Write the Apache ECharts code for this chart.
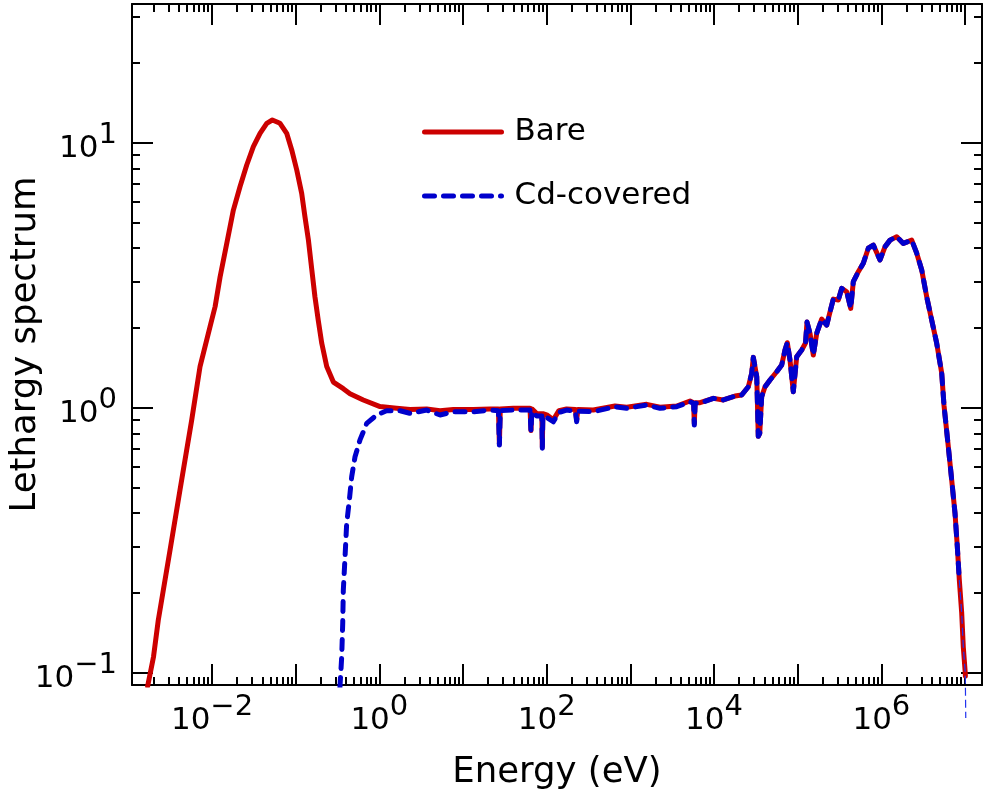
<!DOCTYPE html>
<html>
<head>
<meta charset="utf-8">
<script src="https://cdn.jsdelivr.net/npm/echarts@6/dist/echarts.min.js"></script>
<style>html,body{margin:0;padding:0;background:#fff}#c{width:1004px;height:803px}</style>
</head>
<body>
<div id="c"></div>
<script>
// ---------- data (energy in eV, lethargy spectrum) ----------
const seriesNames = ['Bare', 'Cd-covered'];

// Bare: thermal peak + epithermal plateau
const bareLowE = [1.70e-3, 2.0e-3, 2.28e-3, 3.15e-3, 4.14e-3, 5.72e-3, 7.19e-3, 9.46e-3, 0.0109, 0.0125,
  0.0150, 0.0180, 0.0216, 0.0260, 0.0312, 0.0375, 0.0451, 0.0526, 0.065, 0.0781,
  0.0897, 0.103, 0.118, 0.129, 0.142, 0.156, 0.170, 0.186, 0.205, 0.235,
  0.282, 0.371, 0.446, 0.643, 1.02, 1.61, 2.33, 3.68, 5.31, 7.66,
  13.3, 21.0, 26.5, 27.2, 27.9, 39.9, 63.2, 64.9, 66.5, 76,
  87.5, 88.7, 90, 100, 120, 140, 173, 220, 228, 236,
  361, 655, 904, 1568, 2261, 3581, 5164, 5700, 5813, 5950, 6800];
const bareLowV = [0.089, 0.115, 0.158, 0.290, 0.489, 0.899, 1.43, 2.02, 2.41, 3.12,
  4.17, 5.57, 6.82, 8.24, 9.66, 10.85, 11.84, 12.18, 11.84, 10.85,
  9.39, 7.89, 6.44, 5.26, 4.29, 3.31, 2.62, 2.14, 1.75, 1.43,
  1.25, 1.18, 1.13, 1.07, 1.01, 0.995, 0.985, 0.99, 0.975, 0.985,
  0.985, 0.99, 0.99, 0.73, 0.99, 0.995, 0.995, 0.82, 0.99, 0.95,
  0.95, 0.71, 0.95, 0.94, 0.90, 0.975, 0.99, 0.985, 0.90, 0.985,
  0.98, 1.015, 1.005, 1.03, 1.005, 1.015, 1.06, 1.045, 0.87, 1.045, 1.045];

// Cd-covered: cut-off + epithermal plateau
const cdLowE = [0.338, 0.355, 0.365, 0.371, 0.389, 0.407, 0.438, 0.467, 0.512, 0.587,
  0.706, 0.930, 1.22, 1.77, 2.33, 3.68, 5.31, 7.66, 13.3, 21.0,
  26.5, 27.2, 27.9, 39.9, 63.2, 64.9, 66.5, 76, 87.5, 88.7,
  90, 100, 120, 140, 173, 220, 228, 236, 361, 655,
  904, 1568, 2261, 3581, 5164, 5700, 5813, 5950, 6800];
const cdLowV = [0.088, 0.115, 0.154, 0.205, 0.274, 0.366, 0.448, 0.549, 0.653, 0.756,
  0.873, 0.939, 0.974, 0.974, 0.952, 0.980, 0.939, 0.966, 0.966, 0.980,
  0.975, 0.723, 0.975, 0.980, 0.980, 0.812, 0.97, 0.93, 0.93, 0.703,
  0.93, 0.92, 0.885, 0.96, 0.980, 0.97, 0.885, 0.97, 0.966, 1.009,
  0.995, 1.024, 0.995, 1.009, 1.053, 1.04, 0.86, 1.04, 1.039];

// common fast region (both spectra coincide)
const fastE = [9800, 12900, 17800, 21400, 25700, 28200, 29500, 30900, 32400, 33800,
  35200, 37100, 40700, 46700, 56100, 64400, 70500, 75100, 80900, 88600,
  97300, 111700, 124000, 129200, 140300, 153700, 168800, 193600, 222200, 243400,
  266400, 305800, 335700, 385300, 430100, 462000, 530100, 608400, 698300, 801400,
  963400, 1.105e6, 1.269e6, 1.526e6, 1.829e6, 2.305e6, 2.645e6, 3.036e6, 3.484e6, 3.998e6,
  4.586e6, 5.263e6, 5.607e6, 6.312e6, 6.928e6, 7.589e6, 8.085e6, 8.543e6];
const fastV = [1.085, 1.07, 1.107, 1.117, 1.20, 1.348, 1.549, 1.549, 1.309, 0.78,
  0.80, 1.10, 1.20, 1.272, 1.367, 1.449, 1.651, 1.759, 1.514, 1.149,
  1.557, 1.651, 1.754, 2.105, 1.909, 1.580, 1.91, 2.16, 2.05, 2.30,
  2.57, 2.55, 2.82, 2.74, 2.37, 2.99, 3.26, 3.51, 4.00, 4.11,
  3.61, 4.05, 4.29, 4.42, 4.17, 4.29, 3.83, 3.31, 2.62, 2.14,
  1.75, 1.35, 1.02, 0.712, 0.534, 0.400, 0.299, 0.224];

const bareEndE = [9.124e6, 9.535e6, 1.007e7, 1.01e7];
const bareEndV = [0.168, 0.125, 0.0995, 0.097];
const cdTailE = [8.543e6, 9.124e6, 9.535e6, 1.007e7, 1.02e7];
const cdTailV = [0.224, 0.168, 0.125, 0.0995, 0.0675];

// axes
const xRange = [1.106e-3, 1.595e7];
const yRange = [0.0899, 33.38];
const xMajorExp = [-2, -1, 0, 1, 2, 3, 4, 5, 6, 7];
const xLabelExp = [-2, 0, 2, 4, 6];
const yMajorExp = [-1, 0, 1];
const yLabelExp = [-1, 0, 1];
const minorMult = [2, 3, 4, 5, 6, 7, 8, 9];
const xTitle = 'Energy (eV)';
const yTitle = 'Lethargy spectrum';

// ---------- helpers ----------
const L = Math.log10;
const FONT = 'DejaVu Sans';
const RED = '#cc0000', BLUE = '#0000cc';
const lx = xRange.map(L), ly = yRange.map(L);

function minorTicks(range) {
  const out = [];
  for (let n = Math.floor(range[0]) - 1; n <= Math.ceil(range[1]); n++) {
    minorMult.forEach(k => { const v = n + L(k); if (v > range[0] && v < range[1]) out.push(v); });
  }
  return out;
}
function pairs(E, V) { return E.map((e, i) => [L(e), L(V[i])]); }

const rich = {
  b: { fontFamily: FONT, fontSize: 31, lineHeight: 31, padding: [12, 0, 0, 0], color: '#000' },
  s: { fontFamily: FONT, fontSize: 29, lineHeight: 29, padding: [0, 0, 14, 0], color: '#000' }
};
function fmt(v) {
  const n = Math.round(v);
  return '{b|10}{s|' + (n < 0 ? '\u2212' + Math.abs(n) : String(n)) + '}';
}
const lineBlk = { color: '#000', width: 2 };

function axis(dim, pos, grid, ticks, len, opts) {
  return Object.assign({
    type: 'value', gridIndex: grid, position: pos,
    min: dim === 'x' ? lx[0] : ly[0], max: dim === 'x' ? lx[1] : ly[1],
    axisLine: { show: grid === 0, onZero: false, lineStyle: lineBlk },
    axisTick: { show: true, inside: true, length: len, customValues: ticks, lineStyle: lineBlk },
    axisLabel: { show: false },
    splitLine: { show: false },
    minorTick: { show: false }
  }, opts || {});
}

const xMinor = minorTicks(lx), yMinor = minorTicks(ly);
const gridBox = { left: 132, top: 4, width: 850, height: 681, containLabel: false, outerBoundsMode: 'none' };

const option = {
  animation: false,
  backgroundColor: '#fff',
  grid: [Object.assign({}, gridBox), Object.assign({}, gridBox)],
  xAxis: [
    axis('x', 'bottom', 0, xMajorExp, 21, {
      axisLabel: { show: true, customValues: xLabelExp, formatter: fmt, margin: 14, rich: rich },
      name: xTitle, nameLocation: 'middle', nameGap: 70, nameMoveOverlap: false,
      nameTextStyle: { fontFamily: FONT, fontSize: 35.5, lineHeight: 36, color: '#000' }
    }),
    axis('x', 'top', 0, xMajorExp, 21),
    axis('x', 'bottom', 1, xMinor, 8),
    axis('x', 'top', 1, xMinor, 8)
  ],
  yAxis: [
    axis('y', 'left', 0, yMajorExp, 21, {
      axisLabel: { show: true, customValues: yLabelExp, formatter: fmt, margin: 15, rich: rich },
      name: yTitle, nameLocation: 'middle', nameGap: 88, nameMoveOverlap: false,
      nameTextStyle: { fontFamily: FONT, fontSize: 35.5, lineHeight: 36, color: '#000' }
    }),
    axis('y', 'right', 0, yMajorExp, 21),
    axis('y', 'left', 1, yMinor, 8),
    axis('y', 'right', 1, yMinor, 8)
  ],
  legend: {
    data: seriesNames,
    orient: 'vertical', left: 422, top: 112, padding: 0,
    itemWidth: 77, itemHeight: 20, itemGap: 24,
    itemStyle: { color: 'rgba(0,0,0,0)', borderColor: 'rgba(0,0,0,0)', borderWidth: 0, opacity: 0 },
    lineStyle: { width: 5 },
    textStyle: { fontFamily: FONT, fontSize: 31, lineHeight: 40, color: '#000', padding: [0, 0, 0, 8] }
  },
  series: [
    {
      name: seriesNames[0], type: 'line', xAxisIndex: 0, yAxisIndex: 0,
      symbol: 'none', showSymbol: false, clip: true,
      lineStyle: { color: RED, width: 5, cap: 'round', join: 'round' },
      itemStyle: { color: RED },
      data: pairs(bareLowE, bareLowV).concat(pairs(fastE, fastV), pairs(bareEndE, bareEndV))
    },
    {
      name: seriesNames[1], type: 'line', xAxisIndex: 0, yAxisIndex: 0,
      symbol: 'none', showSymbol: false, clip: true,
      lineStyle: { color: BLUE, width: 5, type: [10, 9], cap: 'round', join: 'round' },
      itemStyle: { color: BLUE },
      data: pairs(cdLowE, cdLowV).concat(pairs(fastE, fastV))
    },
    {
      name: 'tail', type: 'line', xAxisIndex: 0, yAxisIndex: 0,
      symbol: 'none', showSymbol: false, clip: false, silent: true,
      lineStyle: { color: '#2233ee', width: 1.2, type: [8, 4] },
      data: pairs(cdTailE, cdTailV)
    }
  ]
};

const chart = echarts.init(document.getElementById('c'), null, { renderer: 'canvas' });
chart.setOption(option);
</script>
</body>
</html>
